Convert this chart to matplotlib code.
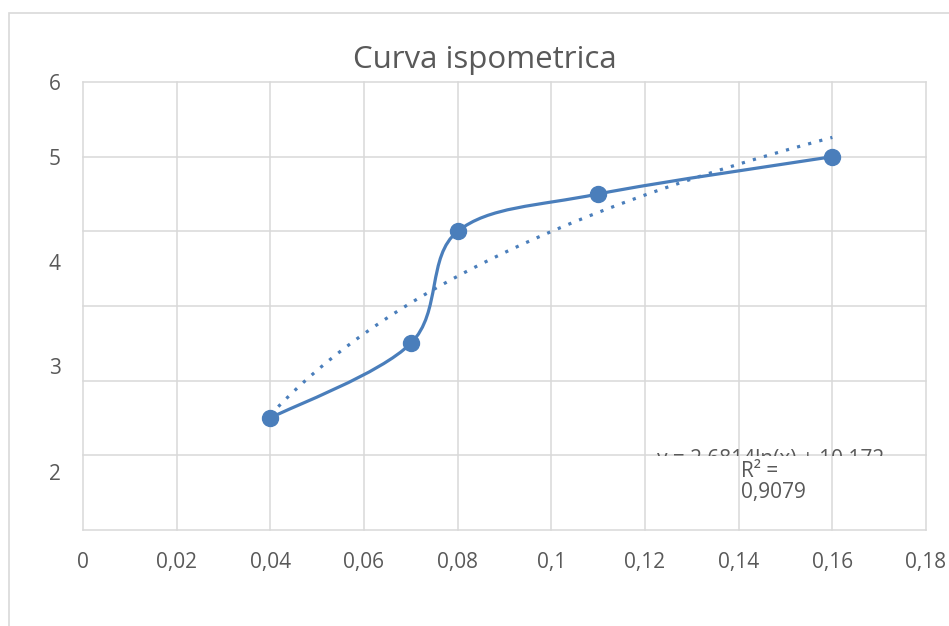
import numpy as np
import matplotlib
matplotlib.use("Agg")
import matplotlib.pyplot as plt
from matplotlib.patches import Rectangle
from matplotlib.path import Path
from matplotlib.patches import PathPatch
from matplotlib.transforms import Bbox, TransformedBbox

# ---- data ----
x_vals = [0.04, 0.07, 0.08, 0.11, 0.16]
y_vals = [1.5, 2.5, 4.0, 4.5, 5.0]
x_ticks = [0, 0.02, 0.04, 0.06, 0.08, 0.1, 0.12, 0.14, 0.16, 0.18]
x_tick_labels = ["0", "0,02", "0,04", "0,06", "0,08", "0,1", "0,12", "0,14", "0,16", "0,18"]
y_grid = [0, 1, 2, 3, 4, 5, 6]
y_label_pos = [6.0, 4.99, 3.59, 2.2, 0.78]
y_tick_labels = ["6", "5", "4", "3", "2"]
trend_a, trend_b = 2.6814, 10.172
eq_text = "y = 2,6814ln(x) + 10,172"
r2_text = "R² =\n0,9079"
title = "Curva ispometrica"

BLUE = "#4a7ebb"
GRID = "#d9d9d9"
TXT = "#595959"
FONT = ["Open Sans", "DejaVu Sans"]
plt.rcParams['font.family'] = FONT
FS = 15

W, H = 949, 626
fig = plt.figure(figsize=(W / 100, H / 100), dpi=100)
# chart border
fig.patches.append(Rectangle((9 / W, -0.1), 2, (626 - 13) / H + 0.1, transform=fig.transFigure,
                             fill=False, edgecolor=GRID, lw=1.2))

L, R, T, B = 83, 926, 82, 530
ax = fig.add_axes([L / W, (H - B) / H, (R - L) / W, (B - T) / H])
ax.set_xlim(0, 0.18)
ax.set_ylim(0, 6)
for s in ax.spines.values():
    s.set_visible(False)

for xv in x_ticks:
    ax.axvline(xv, color=GRID, lw=1.1, zorder=0, clip_on=False)
for yv in y_grid:
    ax.axhline(yv, color=GRID, lw=1.1, zorder=0, clip_on=False)

ax.set_xticks(x_ticks)
ax.set_xticklabels(x_tick_labels)
ax.set_yticks(y_label_pos)
ax.set_yticklabels(y_tick_labels)
ax.tick_params(axis='both', length=0, labelsize=FS, labelcolor=TXT)
ax.tick_params(axis='x', pad=16)
ax.tick_params(axis='y', pad=16)

# trendline
xt = np.linspace(min(x_vals), max(x_vals), 200)
yt = trend_a * np.log(xt) + trend_b
ax.plot(xt, yt, color=BLUE, lw=2.3, linestyle=(0, (1, 2.6)), dash_capstyle='butt', zorder=2)

# smoothed line (Catmull-Rom in pixel space)
sx = (R - L) / 0.18
sy = (B - T) / 6.0
P = np.column_stack([np.array(x_vals) * sx, np.array(y_vals) * sy])
n = len(P)
verts = [tuple(P[0])]
codes = [Path.MOVETO]
for i in range(n - 1):
    p0 = P[i - 1] if i > 0 else P[i]
    p1 = P[i]
    p2 = P[i + 1]
    p3 = P[i + 2] if i + 2 < n else P[i + 1]
    c1 = p1 + (p2 - p0) / 6.0
    c2 = p2 - (p3 - p1) / 6.0
    verts += [tuple(c1), tuple(c2), tuple(p2)]
    codes += [Path.CURVE4] * 3
verts = np.array(verts)
verts[:, 0] /= sx
verts[:, 1] /= sy
ax.add_patch(PathPatch(Path(verts, codes), fill=False, edgecolor=BLUE, lw=2.3, zorder=3,
                       capstyle='round', joinstyle='round'))
ax.plot(x_vals, y_vals, linestyle='none', marker='o', markersize=11.5, color=BLUE, zorder=4)

# trendline label (first line clipped as in the reference)
t = ax.text(0.1469, 0.87, eq_text, fontsize=FS, color=TXT, va='baseline', ha='center', zorder=5)
t.set_clip_box(TransformedBbox(Bbox([[0.10, 0.985], [0.18, 1.3]]), ax.transData))
t.set_clip_on(True)
ax.text(0.1404, 0.93, r2_text, fontsize=FS, color=TXT, va='top', ha='left', zorder=5,
        linespacing=1.0)

fig.text(485 / W, 1 - 60 / H, title, fontsize=22.5, color=TXT, ha='center', va='center')

fig.savefig("out.png", dpi=100)
